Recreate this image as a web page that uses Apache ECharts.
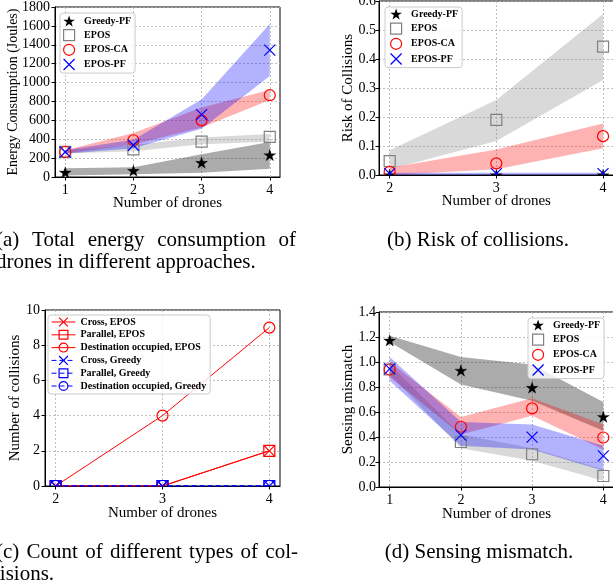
<!DOCTYPE html>
<html><head><meta charset="utf-8">
<script src="https://cdn.jsdelivr.net/npm/echarts@6/dist/echarts.min.js"></script>
<style>html,body{margin:0;padding:0;background:#fff}#c{width:613px;height:585px}</style>
</head><body><div id="c"></div>
<script>
// ---------- data ----------
const dronesA = [1, 2, 3, 4];
const dronesB = [2, 3, 4];
const dronesC = [2, 3, 4];
const dronesD = [1, 2, 3, 4];
const ticksA = [1, 2, 3, 4];
const ticksB = [2, 3, 4];
const ticksC = [2, 3, 4];
const ticksD = [1, 2, 3, 4];

// (a) energy consumption (Joules)
const energyGreedy = [49, 67, 152, 233];
const energyGreedyLow = [15, 30, 45, 88];
const energyGreedyHigh = [92, 102, 240, 370];
const energyEpos = [265, 293, 375, 424];
const energyEposLow = [250, 272, 346, 372];
const energyEposHigh = [280, 340, 418, 455];
const energyCa = [265, 389, 600, 866];
const energyCaLow = [252, 345, 525, 815];
const energyCaHigh = [282, 465, 735, 920];
const energyPf = [265, 336, 661, 1343];
const energyPfLow = [245, 305, 510, 1070];
const energyPfHigh = [285, 395, 820, 1620];

// (b) risk of collisions
const riskGreedy = [0, 0, 0];
const riskEpos = [0.048, 0.19, 0.443];
const riskEposLow = [0.02, 0.117, 0.328];
const riskEposHigh = [0.085, 0.259, 0.555];
const riskCa = [0.011, 0.04, 0.134];
const riskCaLow = [0.0, 0.02, 0.092];
const riskCaHigh = [0.025, 0.088, 0.178];
const riskPf = [0.005, 0.005, 0.005];
const riskPfLow = [0, 0, 0];
const riskPfHigh = [0.008, 0.008, 0.008];

// (c) count of collisions
const crossEpos = [0, 0, 2];
const parallelEpos = [0, 0, 2];
const destEpos = [0, 4, 9];
const crossGreedy = [0, 0, 0];
const parallelGreedy = [0, 0, 0];
const destGreedy = [0, 0, 0];

// (d) sensing mismatch
const mismatchGreedy = [1.173, 0.932, 0.795, 0.562];
const mismatchGreedyLow = [1.16, 0.82, 0.69, 0.45];
const mismatchGreedyHigh = [1.21, 1.04, 0.98, 0.68];
const mismatchEpos = [0.94, 0.36, 0.262, 0.088];
const mismatchEposLow = [0.9, 0.31, 0.21, 0.05];
const mismatchEposHigh = [0.98, 0.42, 0.31, 0.14];
const mismatchCa = [0.94, 0.482, 0.629, 0.396];
const mismatchCaLow = [0.88, 0.42, 0.57, 0.30];
const mismatchCaHigh = [1.0, 0.56, 0.71, 0.50];
const mismatchPf = [0.945, 0.415, 0.399, 0.249];
const mismatchPfLow = [0.85, 0.33, 0.30, 0.13];
const mismatchPfHigh = [1.04, 0.52, 0.50, 0.33];

const methodNames = ['Greedy-PF', 'EPOS', 'EPOS-CA', 'EPOS-PF'];
const collisionNames = ['Cross, EPOS', 'Parallel, EPOS', 'Destination occupied, EPOS',
  'Cross, Greedy', 'Parallel, Greedy', 'Destination occupied, Greedy'];

// ---------- styles ----------
const FONT = 'Liberation Serif';
const STAR_D = 'M50,2L61.8,37.6L99,37.6L68.9,59.5L80.4,95L50,73L19.6,95L31.1,59.5L1,37.6L38.2,37.6Z';
const CROSS_D = 'M0,0L10,10M10,0L0,10';
const SQUARE_D = 'M0,0L10,0L10,10L0,10Z';
const NOFILL = 'rgba(0,0,0,0)';
const methodSym = {
  'Greedy-PF': { kind: 'star', color: '#000', size: 12 },
  'EPOS': { kind: 'square', color: '#808080', size: 11 },
  'EPOS-CA': { kind: 'circle', color: '#ff0000', size: 11 },
  'EPOS-PF': { kind: 'cross', color: '#0000ff', size: 11 }
};
const iconOf = { star: 'path://' + STAR_D, square: 'path://' + SQUARE_D, circle: 'circle', cross: 'path://' + CROSS_D };
const bandColors = {
  'Greedy-PF': 'rgba(0,0,0,0.33)',
  'EPOS': 'rgba(128,128,128,0.3)',
  'EPOS-CA': 'rgba(255,0,0,0.3)',
  'EPOS-PF': 'rgba(0,0,255,0.3)'
};

function pairs(xs, ys) { return xs.map((x, i) => [x, ys[i]]); }

// shaded band between low and high, drawn through the axis scales
function band(idx, xs, low, high, color) {
  return {
    type: 'custom', xAxisIndex: idx, yAxisIndex: idx, silent: true, z: 1, clip: true,
    data: xs.map((x, i) => [x, low[i], high[i]]),
    encode: { x: 0, y: [1, 2] },
    renderItem: function (params, api) {
      if (params.dataIndex !== 0) return null;
      const top = xs.map((x, i) => api.coord([x, high[i]]));
      const bot = xs.map((x, i) => api.coord([x, low[i]])).reverse();
      return { type: 'polygon', shape: { points: top.concat(bot) }, style: { fill: color, stroke: null } };
    }
  };
}

// marker element centred on a data point (clipped to the plot like matplotlib)
function markerShape(kind, p, s, color) {
  const h = s / 2;
  if (kind === 'star') return { type: 'path', shape: { pathData: STAR_D, x: p[0] - h, y: p[1] - h, width: s, height: s, layout: 'center' }, style: { fill: color, stroke: color, lineWidth: 0.3 } };
  if (kind === 'square') return { type: 'rect', shape: { x: p[0] - h, y: p[1] - h, width: s, height: s }, style: { fill: NOFILL, stroke: color, lineWidth: 1.2 } };
  if (kind === 'circle') return { type: 'circle', shape: { cx: p[0], cy: p[1], r: h }, style: { fill: NOFILL, stroke: color, lineWidth: 1.2 } };
  return { type: 'path', shape: { pathData: CROSS_D, x: p[0] - h, y: p[1] - h, width: s, height: s, layout: 'cover' }, style: { fill: NOFILL, stroke: color, lineWidth: 1.2 } };
}

function marks(idx, name, xs, ys, sym) {
  return {
    type: 'custom', name: name, xAxisIndex: idx, yAxisIndex: idx, clip: true, z: 3, silent: true,
    data: pairs(xs, ys), encode: { x: 0, y: 1 },
    itemStyle: { color: sym.kind === 'star' ? sym.color : NOFILL },
    renderItem: function (params, api) {
      const p = api.coord([api.value(0), api.value(1)]);
      return markerShape(sym.kind, p, sym.size, sym.color);
    }
  };
}

function xAxis(idx, min, max, ticks, gap) {
  return {
    type: 'value', gridIndex: idx, min: min, max: max,
    name: 'Number of drones', nameLocation: 'middle', nameGap: gap, nameMoveOverlap: false,
    nameTextStyle: { fontFamily: FONT, fontSize: 15, color: '#000' },
    axisLine: { show: true, onZero: false, lineStyle: { color: '#000', width: 1 } },
    axisTick: { show: true, length: 3.5, customValues: ticks, lineStyle: { color: '#000', width: 1 } },
    axisLabel: { customValues: ticks, fontFamily: FONT, fontSize: 14, color: '#000', margin: 6 },
    splitLine: { show: true, lineStyle: { color: '#b0b0b0', type: [2, 2], width: 0.8 } }
  };
}

function yAxis(idx, max, interval, name, gap, decimals, nameSize, margin) {
  return {
    type: 'value', gridIndex: idx, min: 0, max: max, interval: interval,
    name: name, nameLocation: 'middle', nameGap: gap, nameMoveOverlap: false,
    nameTextStyle: { fontFamily: FONT, fontSize: nameSize, color: '#000' },
    axisLine: { show: true, onZero: false, lineStyle: { color: '#000', width: 1 } },
    axisTick: { show: true, length: 3.5, lineStyle: { color: '#000', width: 1 } },
    axisLabel: { fontFamily: FONT, fontSize: 14, color: '#000', margin: margin,
      formatter: v => Number(v).toFixed(decimals) },
    splitLine: { show: true, lineStyle: { color: '#b0b0b0', type: [2, 2], width: 0.8 } }
  };
}

const legendText = { fontFamily: FONT, fontWeight: 'bold', fontSize: 10, color: '#000' };
function methodLegend(left, top, padding, gap) {
  return {
    orient: 'vertical', left: left, top: top, padding: padding, itemGap: gap,
    itemWidth: 20, itemHeight: 11, selectedMode: false,
    backgroundColor: 'rgba(255,255,255,0.8)', borderColor: '#cccccc', borderWidth: 1, borderRadius: 3,
    textStyle: legendText,
    data: methodNames.map(n => {
      const s = methodSym[n];
      return { name: n, icon: iconOf[s.kind],
        itemStyle: s.kind === 'star'
          ? { color: s.color, borderColor: s.color, borderWidth: 0 }
          : { color: NOFILL, borderColor: s.color, borderWidth: 1.2 } };
    }),
    z: 10
  };
}

// ---------- series ----------
const series = [];
// (a)
series.push(band(0, dronesA, energyGreedyLow, energyGreedyHigh, bandColors['Greedy-PF']));
series.push(band(0, dronesA, energyEposLow, energyEposHigh, bandColors['EPOS']));
series.push(band(0, dronesA, energyCaLow, energyCaHigh, bandColors['EPOS-CA']));
series.push(band(0, dronesA, energyPfLow, energyPfHigh, bandColors['EPOS-PF']));
series.push(marks(0, 'Greedy-PF', dronesA, energyGreedy, methodSym['Greedy-PF']));
series.push(marks(0, 'EPOS', dronesA, energyEpos, methodSym['EPOS']));
series.push(marks(0, 'EPOS-CA', dronesA, energyCa, methodSym['EPOS-CA']));
series.push(marks(0, 'EPOS-PF', dronesA, energyPf, methodSym['EPOS-PF']));
// (b)
series.push(band(1, dronesB, riskEposLow, riskEposHigh, bandColors['EPOS']));
series.push(band(1, dronesB, riskCaLow, riskCaHigh, bandColors['EPOS-CA']));
series.push(band(1, dronesB, riskPfLow, riskPfHigh, bandColors['EPOS-PF']));
series.push(marks(1, 'Greedy-PF', dronesB, riskGreedy, methodSym['Greedy-PF']));
series.push(marks(1, 'EPOS', dronesB, riskEpos, methodSym['EPOS']));
series.push(marks(1, 'EPOS-CA', dronesB, riskCa, methodSym['EPOS-CA']));
series.push(marks(1, 'EPOS-PF', dronesB, riskPf, methodSym['EPOS-PF']));
// (c)
const collisionData = [crossEpos, parallelEpos, destEpos, crossGreedy, parallelGreedy, destGreedy];
const collisionKinds = ['cross', 'square', 'circle', 'cross', 'square', 'circle'];
collisionNames.forEach((n, i) => {
  const col = i < 3 ? '#ff0000' : '#0000ff';
  const kind = collisionKinds[i];
  series.push({
    type: 'line', name: n, xAxisIndex: 2, yAxisIndex: 2, data: pairs(dronesC, collisionData[i]),
    symbol: iconOf[kind], symbolSize: 11, showSymbol: false,
    lineStyle: { color: col, width: 1, type: i < 3 ? 'solid' : [5, 3] },
    itemStyle: { color: NOFILL, borderColor: col, borderWidth: 1.2, opacity: 1 },
    z: 2, silent: true
  });
  series.push(marks(2, n + ' markers', dronesC, collisionData[i], { kind: kind, color: col, size: 11 }));
});
// (d)
series.push(band(3, dronesD, mismatchGreedyLow, mismatchGreedyHigh, bandColors['Greedy-PF']));
series.push(band(3, dronesD, mismatchEposLow, mismatchEposHigh, bandColors['EPOS']));
series.push(band(3, dronesD, mismatchCaLow, mismatchCaHigh, bandColors['EPOS-CA']));
series.push(band(3, dronesD, mismatchPfLow, mismatchPfHigh, bandColors['EPOS-PF']));
series.push(marks(3, 'Greedy-PF', dronesD, mismatchGreedy, methodSym['Greedy-PF']));
series.push(marks(3, 'EPOS', dronesD, mismatchEpos, methodSym['EPOS']));
series.push(marks(3, 'EPOS-CA', dronesD, mismatchCa, methodSym['EPOS-CA']));
series.push(marks(3, 'EPOS-PF', dronesD, mismatchPf, methodSym['EPOS-PF']));

// ---------- captions ----------
const CAP_SIZE = 21;
const mctx = document.createElement('canvas').getContext('2d');
mctx.font = CAP_SIZE + 'px "' + FONT + '"';
function capText(text, x, y, align) {
  return { type: 'text', x: x, y: y, silent: true,
    style: { text: text, fontFamily: FONT, fontSize: CAP_SIZE, fill: '#000', align: align || 'left', verticalAlign: 'middle' } };
}
function justified(line, x0, x1, y) {
  const words = line.split(' ');
  const ws = words.map(w => mctx.measureText(w).width);
  const total = ws.reduce((a, b) => a + b, 0);
  const gap = (x1 - x0 - total) / (words.length - 1);
  const out = [];
  let x = x0;
  words.forEach((w, i) => { out.push(capText(w, x, y)); x += ws[i] + gap; });
  return out;
}
const graphics = [];
graphics.push(...justified('(a) Total energy consumption of', -4, 296, 240));
graphics.push(capText('drones in different approaches.', -4, 262));
graphics.push(capText('(b) Risk of collisions.', 478, 240, 'center'));
graphics.push(...justified('(c) Count of different types of col-', -4, 298, 552));
graphics.push(capText('lisions.', -6, 574));
graphics.push(capText('(d) Sensing mismatch.', 479, 552, 'center'));

// ---------- chart ----------
const gridBase = { show: true, borderColor: '#000', borderWidth: 1, backgroundColor: 'rgba(0,0,0,0)', containLabel: false, outerBoundsMode: 'none' };
const option = {
  animation: false,
  backgroundColor: '#fff',
  grid: [
    Object.assign({ left: 55, top: 7, width: 225, height: 170 }, gridBase),
    Object.assign({ left: 379, top: 1, width: 234.7, height: 174 }, gridBase),
    Object.assign({ left: 45, top: 310, width: 235, height: 176 }, gridBase),
    Object.assign({ left: 379, top: 312, width: 235, height: 175 }, gridBase)
  ],
  xAxis: [
    xAxis(0, 0.85, 4.15, ticksA, 18.5),
    xAxis(1, 1.9, 4.1, ticksB, 18.5),
    xAxis(2, 1.9, 4.1, ticksC, 19.5),
    xAxis(3, 0.85, 4.15, ticksD, 19.5)
  ],
  yAxis: [
    yAxis(0, 1800, 200, 'Energy Consumption (Joules)', 35, 0, 14, 5),
    yAxis(1, 0.6, 0.1, 'Risk of Collisions', 23.5, 1, 15, 3),
    yAxis(2, 10, 2, 'Number of collisions', 22.5, 0, 15, 5),
    yAxis(3, 1.4, 0.2, 'Sensing mismatch', 23.5, 1, 15, 3)
  ],
  legend: [
    methodLegend(60, 13, [2.5, 4, 2.5, 3], 2.5),
    methodLegend(385, 7, [1.5, 4, 2.5, 5], 3),
    {
      orient: 'vertical', left: 48, top: 315, padding: [2, 4, 3, 3], itemGap: 2.8,
      itemWidth: 24, itemHeight: 11, selectedMode: false,
      backgroundColor: 'rgba(255,255,255,0.8)', borderColor: '#cccccc', borderWidth: 1, borderRadius: 3,
      textStyle: legendText,
      itemStyle: { borderWidth: 1.2 }, lineStyle: { width: 1 },
      data: collisionNames, z: 10
    },
    methodLegend(528, 318, [1.5, 4, 2.5, 4], 3)
  ],
  graphic: graphics,
  series: series
};
const chart = echarts.init(document.getElementById('c'), null, { renderer: 'canvas' });
chart.setOption(option);
</script></body></html>
